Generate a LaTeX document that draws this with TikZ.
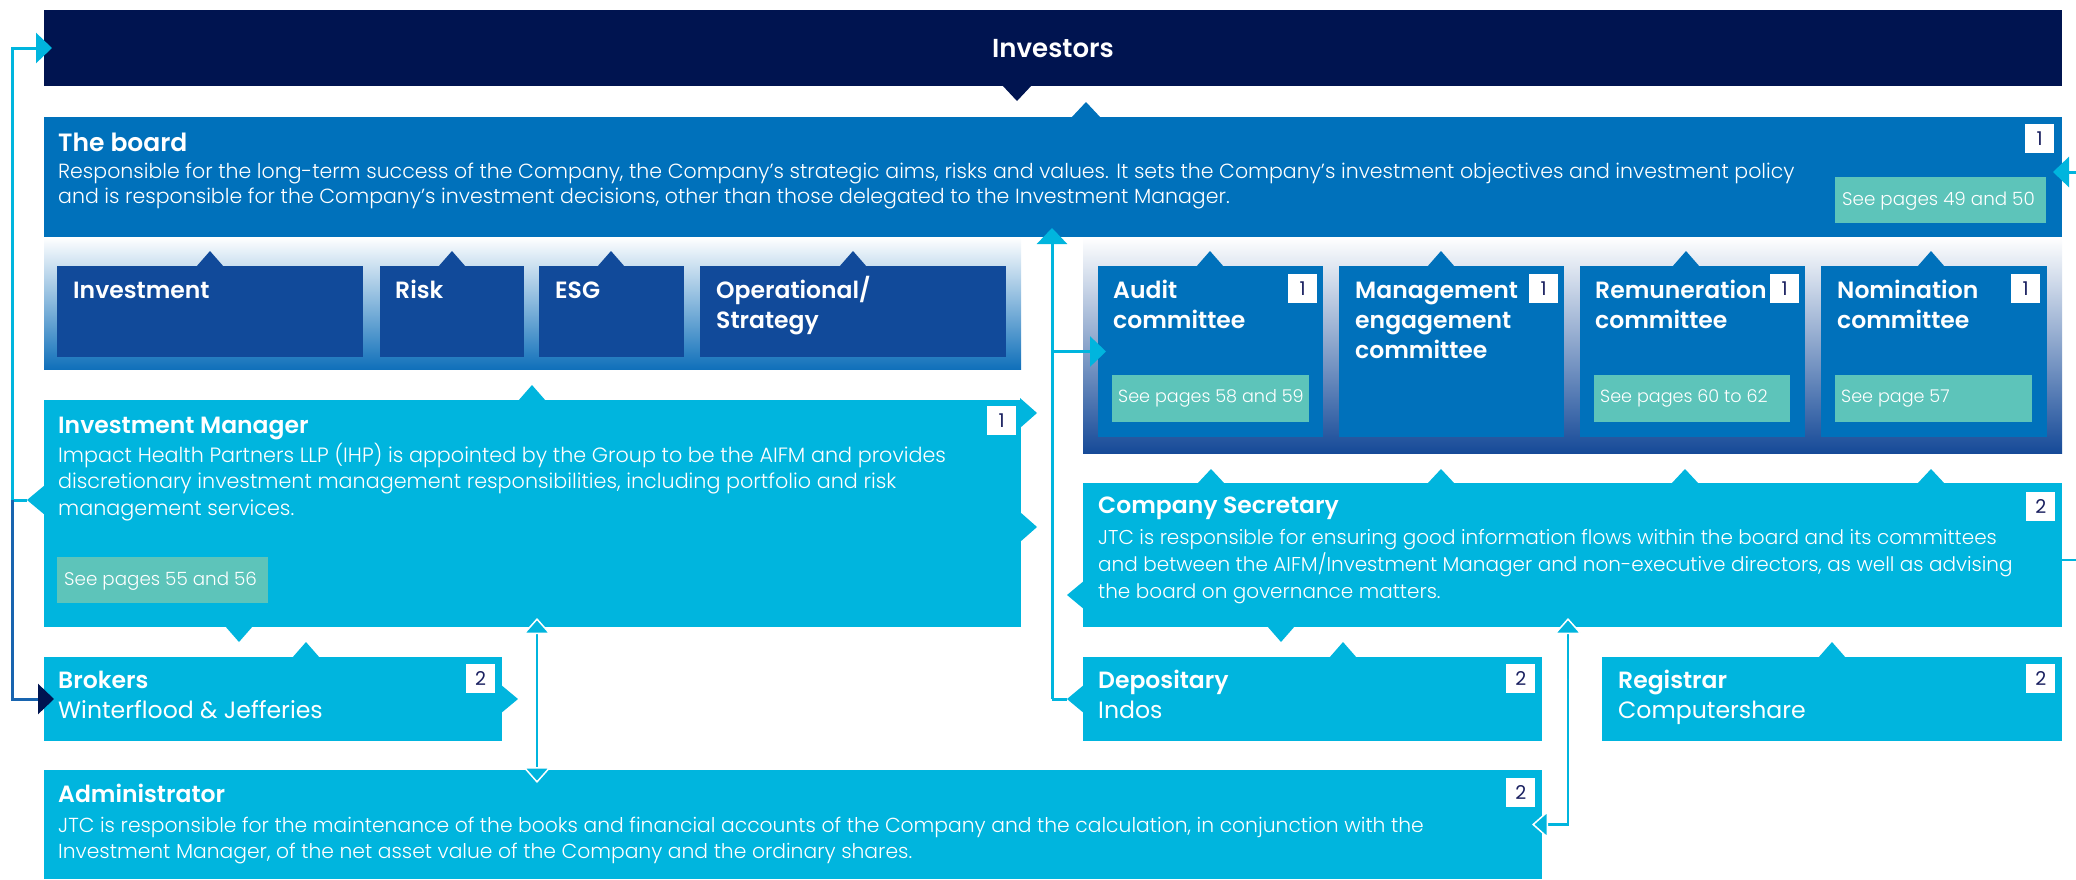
\documentclass[tikz,border=0pt]{standalone}
\usepackage{fontspec}
\setmainfont{Poppins}
\newfontfamily\lightfont{Poppins Light}
\newfontfamily\headfont{Poppins SemiBold}
\usetikzlibrary{arrows.meta,calc}

\definecolor{navyblue}{RGB}{0,20,80}
\definecolor{boardblue}{RGB}{0,113,187}
\definecolor{deepblue}{RGB}{17,74,154}
\definecolor{skyblue}{RGB}{0,181,222}
\definecolor{seeteal}{RGB}{93,196,186}
\definecolor{badgenavy}{RGB}{26,32,96}
\definecolor{linkblue}{RGB}{24,100,175}
\definecolor{bandleft}{RGB}{16,112,186}
\definecolor{bandright}{RGB}{22,74,152}

\tikzset{
  halo/.tip={Triangle[fill=skyblue, color=white, line width=1.5pt, width=28pt, length=16pt]},
  plain/.tip={Triangle[width=30pt, length=16pt]},
}

\begin{document}
\begin{tikzpicture}[x=1pt,y=1pt,yscale=-1,
  box/.style={inner sep=0pt, outer sep=0pt, anchor=north west},
  badge/.style={fill=white, text=badgenavy, inner sep=0pt, minimum size=29pt, anchor=north west, font=\fontsize{19}{19}\selectfont},
  seebox/.style={box, fill=seeteal, minimum height=46pt},
  seetext/.style={anchor=base west, inner sep=0pt, text=white, font=\lightfont\fontsize{18.3}{22}\selectfont},
  smallsee/.style={seetext, font=\lightfont\fontsize{17.6}{22}\selectfont},
  head/.style={anchor=base west, inner sep=0pt, text=white, align=left, font=\headfont\fontsize{23.5}{30}\selectfont},
  blurb/.style={anchor=base west, inner sep=0pt, text=white, align=left, font=\lightfont\fontsize{20.3}{26.5}\selectfont},
  sub/.style={anchor=base west, inner sep=0pt, text=white, font=\fontsize{23.6}{26}\selectfont},
  link/.style={line width=3pt, skyblue},
  tip/.style={-plain},
]
\useasboundingbox (0,0) rectangle (2076,879);

%Shape: Rectangle [investors bar]
\node[box, fill=navyblue, minimum width=2018pt, minimum height=76pt] (investors) at (44,10) {};
\fill[navyblue] (1002,85) -- (1017,101) -- (1032,85) -- cycle;

%Shape: Rectangle [board]
\node[box, fill=boardblue, minimum width=2018pt, minimum height=120pt] (board) at (44,117) {};
\fill[boardblue] (1071,118) -- (1086,102) -- (1101,118) -- cycle;

%Shape: Rectangle [shaded bands under the board]
\node[box, minimum width=977pt, minimum height=132pt, top color=white, bottom color=bandleft] (leftband) at (44,237) {};
\node[box, minimum width=979pt, minimum height=216pt, top color=white, bottom color=bandright] (rightband) at (1083,237) {};

%Shape: Rectangle [board areas]
\node[box, fill=deepblue, minimum width=306pt, minimum height=91pt] (investment) at (57,266) {};
\node[box, fill=deepblue, minimum width=144pt, minimum height=91pt] (risk) at (380,266) {};
\node[box, fill=deepblue, minimum width=145pt, minimum height=91pt] (esg) at (539,266) {};
\node[box, fill=deepblue, minimum width=306pt, minimum height=91pt] (operational) at (700,266) {};
\foreach \nx in {210,452,611,853}
  \fill[deepblue] (\nx-14,267) -- (\nx,251) -- (\nx+14,267) -- cycle;

%Shape: Rectangle [committees]
\node[box, fill=boardblue, minimum width=225pt, minimum height=171pt] (audit) at (1098,266) {};
\node[box, fill=boardblue, minimum width=225pt, minimum height=171pt] (mgmteng) at (1339,266) {};
\node[box, fill=boardblue, minimum width=225pt, minimum height=171pt] (remun) at (1580,266) {};
\node[box, fill=boardblue, minimum width=226pt, minimum height=171pt] (nomin) at (1821,266) {};
\foreach \nx in {1210,1441,1686,1931}
  \fill[boardblue] (\nx-14,267) -- (\nx,251) -- (\nx+14,267) -- cycle;

%Shape: Rectangle [investment manager]
\node[box, fill=skyblue, minimum width=977pt, minimum height=227pt] (invmanager) at (44,400) {};
\fill[skyblue] (518,401) -- (532,385) -- (546,401) -- cycle;
\fill[skyblue] (1020,398) -- (1037,413) -- (1020,428) -- cycle;
\fill[skyblue] (1020,512) -- (1037,527) -- (1020,542) -- cycle;
\fill[skyblue] (45,485) -- (27,500) -- (45,515) -- cycle;
\fill[skyblue] (225,626) -- (239,642) -- (253,626) -- cycle;
\coordinate (imtip) at (27,500);

%Shape: Rectangle [company secretary]
\node[box, fill=skyblue, minimum width=979pt, minimum height=144pt] (cosec) at (1083,483) {};
\foreach \nx in {1211,1441,1685,1931}
  \fill[skyblue] (\nx-14,484) -- (\nx,469) -- (\nx+14,484) -- cycle;
\fill[skyblue] (1085,580) -- (1067,595) -- (1085,610) -- cycle;
\fill[skyblue] (1267,626) -- (1281,642) -- (1295,626) -- cycle;

%Shape: Rectangle [brokers, depositary, registrar]
\node[box, fill=skyblue, minimum width=458pt, minimum height=84pt] (brokers) at (44,657) {};
\fill[skyblue] (292,658) -- (306,642) -- (320,658) -- cycle;
\fill[skyblue] (500,684) -- (518,699) -- (500,714) -- cycle;
\node[box, fill=skyblue, minimum width=459pt, minimum height=84pt] (depositary) at (1083,657) {};
\fill[skyblue] (1329,658) -- (1343,642) -- (1357,658) -- cycle;
\fill[skyblue] (1085,684) -- (1067,699) -- (1085,714) -- cycle;
\coordinate (deptip) at (1067,699);
\node[box, fill=skyblue, minimum width=460pt, minimum height=84pt] (registrar) at (1602,657) {};
\fill[skyblue] (1818,658) -- (1832,642) -- (1846,658) -- cycle;

%Shape: Rectangle [administrator]
\node[box, fill=skyblue, minimum width=1498pt, minimum height=109pt] (admin) at (44,770) {};

%Shape: Rectangle [page references]
\node[seebox, minimum width=211pt] (boardsee) at (1835,177) {};
\node[seebox, minimum width=211pt] (invmanagersee) at (57,557) {};
\node[seebox, minimum width=197pt, minimum height=47pt] (auditsee) at (1112,375) {};
\node[seebox, minimum width=196pt, minimum height=47pt] (remunsee) at (1594,375) {};
\node[seebox, minimum width=197pt, minimum height=47pt] (nominsee) at (1835,375) {};

%Straight Lines [left hand links]
\draw[link, tip] (imtip) -- ++(-15,0) coordinate (imturn) |- ($(investors.west)+(8,0)$);
\draw[link, linkblue, -{Triangle[width=30pt,length=16pt,fill=navyblue,color=navyblue]}] (imturn) |- ($(brokers.west)+(10,0)$);

%Straight Lines [depositary up to the board and audit committee]
\draw[link] (deptip) -- ++(-15,0) coordinate (depturn);
\draw[link, tip] (depturn) -- ($(depturn |- board.south)+(0,-9)$);
\draw[link, tip] (depturn |- audit.west) -- ($(audit.west)+(8,0)$);

%Straight Lines [administrator links]
\draw[link, line width=2.5pt, halo-halo] ($(invmanager.south west)+(493,-9)$) -- ($(admin.north west)+(493,13)$);
\draw[link, line width=2.5pt, halo-halo] ($(cosec.south west)+(485,-9)$) |- ($(admin.east)+(-10,0)$);

%Straight Lines [right hand edge]
\coordinate (edgein) at (2076,172);
\coordinate (edgeout) at (2076,560);
\draw[link, tip] (edgein) -- ($(board.north east)+(-9,55)$);
\draw[link, line width=2pt] (cosec.east |- edgeout) -- (edgeout);

% Text Node (multi-line texts sit on the baseline of their last line)
\node[head, anchor=base, font=\headfont\fontsize{26}{30}\selectfont] (investorstitle) at (1053,57) {Investors};
% Text Node
\node[head, font=\headfont\fontsize{25}{30}\selectfont] (boardtitle) at (58,151) {The board};
\node[blurb, font=\lightfont\fontsize{20.5}{25}\selectfont] (boardtext) at (58,203) {Responsible for the long-term success of the Company, the Company’s strategic aims, risks and values. It sets the Company’s investment objectives and investment policy\\and is responsible for the Company’s investment decisions, other than those delegated to the Investment Manager.};
\node[seetext] (boardseetext) at ($(boardsee.west)+(7,5)$) {See pages 49 and 50};
\node[badge] (boardno) at (2025,124) {1};

% Text Node
\node[head] (investmenttitle) at (73,298) {Investment};
\node[head] (risktitle) at (395,298) {Risk};
\node[head] (esgtitle) at (555,298) {ESG};
\node[head] (operationaltitle) at (716,328) {Operational/\\Strategy};

% Text Node
\node[head] (audittitle) at (1113,328) {Audit\\committee};
\node[head] (mgmtengtitle) at (1355,358) {Management\\engagement\\committee};
\node[head] (remuntitle) at (1595,328) {Remuneration\\committee};
\node[head] (nomintitle) at (1837,328) {Nomination\\committee};
\node[badge] (auditno) at (1288,274) {1};
\node[badge] (mgmtengno) at (1529,274) {1};
\node[badge] (remunno) at (1770,274) {1};
\node[badge] (nominno) at (2011,274) {1};
\node[smallsee] (auditseetext) at ($(auditsee.west)+(6,4)$) {See pages 58 and 59};
\node[smallsee] (remunseetext) at ($(remunsee.west)+(6,4)$) {See pages 60 to 62};
\node[smallsee] (nominseetext) at ($(nominsee.west)+(6,4)$) {See page 57};

% Text Node
\node[head] (invmanagertitle) at (58,433) {Investment Manager};
\node[blurb, font=\lightfont\fontsize{20.7}{26.5}\selectfont] (invmanagertext) at (58,515) {Impact Health Partners LLP (IHP) is appointed by the Group to be the AIFM and provides\\discretionary investment management responsibilities, including portfolio and risk\\management services.};
\node[seetext] (invmanagerseetext) at ($(invmanagersee.west)+(7,5)$) {See pages 55 and 56};
\node[badge] (invmanagerno) at (987,406) {1};

% Text Node
\node[head] (cosectitle) at (1098,513) {Company Secretary};
\node[blurb, font=\lightfont\fontsize{20}{27}\selectfont] (cosectext) at (1098,598) {JTC is responsible for ensuring good information flows within the board and its committees\\and between the AIFM/Investment Manager and non-executive directors, as well as advising\\the board on governance matters.};
\node[badge] (cosecno) at (2026,492) {2};

% Text Node
\node[head] (brokerstitle) at (58,688) {Brokers};
\node[sub] (brokersname) at (58,718) {Winterflood \& Jefferies};
\node[badge] (brokersno) at (466,664) {2};
\node[head] (depositarytitle) at (1098,688) {Depositary};
\node[sub] (depositaryname) at (1098,718) {Indos};
\node[badge] (depositaryno) at (1506,664) {2};
\node[head] (registrartitle) at (1618,688) {Registrar};
\node[sub] (registrarname) at (1618,718) {Computershare};
\node[badge] (registrarno) at (2026,664) {2};

% Text Node
\node[head] (admintitle) at (58,802) {Administrator};
\node[blurb, font=\lightfont\fontsize{20.3}{26}\selectfont] (admintext) at (58,858) {JTC is responsible for the maintenance of the books and financial accounts of the Company and the calculation, in conjunction with the\\Investment Manager, of the net asset value of the Company and the ordinary shares.};
\node[badge] (adminno) at (1506,778) {2};

\end{tikzpicture}
\end{document}
